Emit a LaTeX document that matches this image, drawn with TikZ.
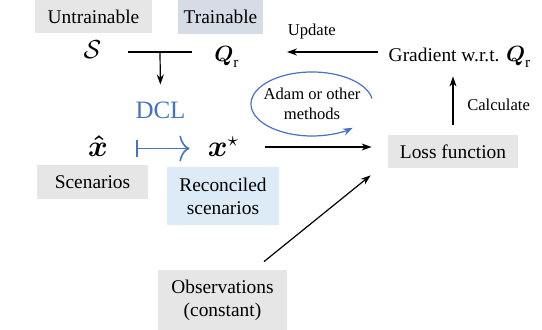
\RequirePackage{fix-cm}
\documentclass[tikz,border=0pt]{standalone}
\usepackage{amsmath}
\usepackage{fontspec}
\setmainfont{Liberation Serif}
\usetikzlibrary{arrows.meta, positioning, calc}
\definecolor{boxgray}{RGB}{230,230,230}
\definecolor{boxslate}{RGB}{214,220,229}
\definecolor{boxblue}{RGB}{221,235,247}
\definecolor{dclblue}{RGB}{68,114,196}

\begin{document}
\begin{tikzpicture}[
    x=0.5pt, y=0.5pt,
    >={Stealth[length=5pt, width=3.5pt]},
    every node/.style={font=\fontsize{9.7}{11.5}\selectfont},
    tagbox/.style={rectangle, fill=boxgray, align=center, inner sep=0pt,
        minimum height=16.5pt},
    mathnode/.style={inner sep=1pt, anchor=base},
    arrow/.style={->, semithick},
    note/.style={font=\fontsize{8.3}{10}\selectfont, align=center},
]
\useasboundingbox (0,0) rectangle (542,330);

% === TAGS ===
\node[tagbox, minimum width=58.5pt] (untrain) at (93.5,313.5) {Untrainable};
\node[tagbox, fill=boxslate, minimum width=42.5pt, minimum height=17pt] (train) at (220.5,313) {Trainable};

% === PARAMETERS ===
\node[mathnode, font=\fontsize{13}{15}\selectfont] (S) at (92.5,271) {$\mathcal{S}$};
\node[mathnode, font=\fontsize{11}{13}\selectfont] (Qr) at (227,268) {$\boldsymbol{Q}_{\mathrm{r}}$};
\coordinate (split) at (160,278);
\node[font=\fontsize{12.5}{14}\selectfont, text=dclblue] (dcl) at (160.5,220) {DCL};

% === SCENARIOS ===
\node[mathnode, font=\fontsize{15}{17}\selectfont] (xhat) at (98,173) {$\boldsymbol{\hat{x}}$};
\node[mathnode, font=\fontsize{15}{17}\selectfont] (xstar) at (223.5,173) {$\boldsymbol{x}^{\star}$};
\node[tagbox, minimum width=55.5pt, minimum height=17pt] (scen) at (92.5,148) {Scenarios};
\node[tagbox, fill=boxblue, minimum width=56pt, minimum height=29pt] (recon) at (223,134) {Reconciled\\scenarios};
\node[tagbox, minimum width=64.5pt, minimum height=30pt] (obs) at (222.5,30) {Observations\\(constant)};

% === TRAINING LOOP ===
\node[tagbox, minimum width=65pt] (loss) at (453,178.5) {Loss function};
\node[anchor=base] (grad) at (460,268) {Gradient w.r.t. {\fontsize{11}{13}\selectfont$\boldsymbol{Q}_{\mathrm{r}}$}};
\node[note] (adam) at (312,226) {Adam or other\\methods};

% === ARROWS ===
% S and Q_r feed DCL
\draw[semithick, shorten <=12pt, shorten >=10pt] (S.east |- split) -- (Qr.west |- split);
\draw[arrow, shorten >=5pt] (split) -- (dcl.north);

% DCL mapping
\draw[dclblue, thick, {Bar[width=8.5pt]}-{To[length=5pt, width=13pt]},
    shorten <=13pt, shorten >=8pt]
    ([yshift=4.25pt]xhat.base east) -- ([yshift=4.25pt]xstar.base west);

% Reconciled scenarios and observations to loss
\draw[arrow, shorten <=11.5pt, shorten >=8pt] ([yshift=5pt]xstar.base east) -- ([yshift=5pt]xstar.base east -| loss.west);
\draw[arrow] ([shift={(41.5,8)}]obs.north) -- ([shift={(-17,-7)}]loss.south west);

% Loss to gradient to Q_r
\draw[arrow, shorten <=5pt, shorten >=1pt] (loss.north) -- (loss.north |- grad.south)
    node[note, midway, right=3.5pt] {Calculate};
\draw[arrow, shorten <=2pt, shorten >=22.5pt] ([yshift=5pt]grad.base west) -- ([yshift=5pt]grad.base west -| Qr.east)
    node[note, midway, above=3pt] {Update};

% Optimizer loop
\draw[dclblue, semithick, -{Stealth[length=5pt, width=3.5pt]}]
    ([shift={(10:30.5pt and 16pt)}]adam.center) arc[start angle=10, end angle=312, x radius=30.5pt, y radius=16pt];

\end{tikzpicture}
\end{document}
